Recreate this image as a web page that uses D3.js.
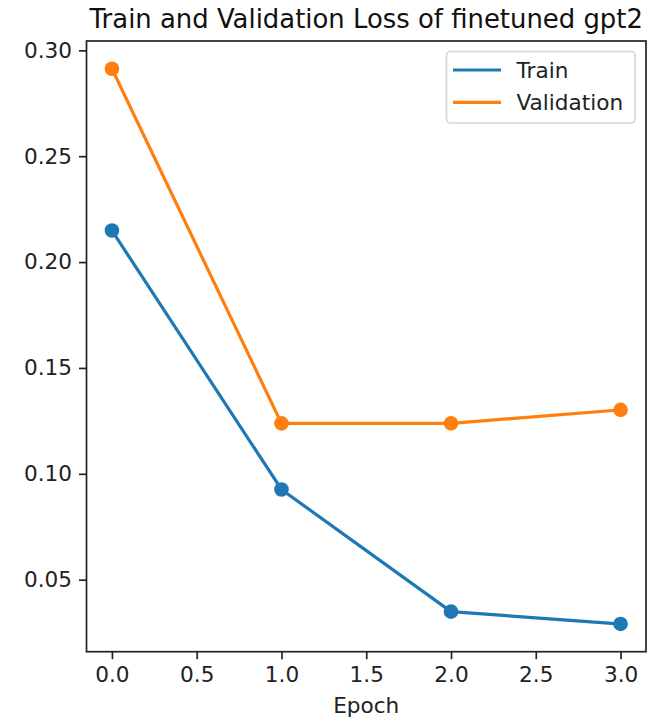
<!DOCTYPE html>
<html>
<head>
<meta charset="utf-8">
<script src="https://cdn.jsdelivr.net/npm/d3@7"></script>
<style>
  html, body { margin: 0; padding: 0; background: #fff; }
  svg { display: block; font-family: "DejaVu Sans", sans-serif; }
</style>
</head>
<body>
<svg id="chart" width="651" height="719"></svg>
<script>
const epochs = [0, 1, 2, 3];
const trainLoss = [0.2149, 0.0926, 0.0349, 0.0291];
const valLoss = [0.2913, 0.1238, 0.1238, 0.1302];
const xTicks = [0, 0.5, 1, 1.5, 2, 2.5, 3];
const yTicks = [0.05, 0.10, 0.15, 0.20, 0.25, 0.30];
const seriesNames = ["Train", "Validation"];
const seriesColors = ["#1f77b4", "#ff7f0e"];
const titleText = "Train and Validation Loss of finetuned gpt2";
const xLabel = "Epoch";

const svg = d3.select("#chart");
const plot = { left: 86.5, right: 646, top: 41, bottom: 651.7 };

const xMin = d3.min(epochs), xMax = d3.max(epochs);
const xPad = (xMax - xMin) * 0.05;
const allY = trainLoss.concat(valLoss);
const yMin = d3.min(allY), yMax = d3.max(allY);
const yPad = (yMax - yMin) * 0.05;

const x = d3.scaleLinear().domain([xMin - xPad, xMax + xPad]).range([plot.left, plot.right]);
const y = d3.scaleLinear().domain([yMin - yPad, yMax + yPad]).range([plot.bottom, plot.top]);

const fontTick = 21.6;

// X axis
const xAxis = d3.axisBottom(x).tickValues(xTicks).tickFormat(d3.format(".1f")).tickSizeOuter(0).tickSize(7.5).tickPadding(7);
const gx = svg.append("g").attr("transform", `translate(0,${plot.bottom})`).call(xAxis);
gx.select(".domain").remove();
gx.selectAll(".tick line").attr("stroke", "#222").attr("stroke-width", 1.7);
gx.selectAll(".tick text").attr("fill", "#222").style("font-size", fontTick + "px").style("font-family", "DejaVu Sans");

// Y axis
const yAxis = d3.axisLeft(y).tickValues(yTicks).tickFormat(d3.format(".2f")).tickSizeOuter(0).tickSize(7.5).tickPadding(7);
const gy = svg.append("g").attr("transform", `translate(${plot.left},0)`).call(yAxis);
gy.select(".domain").remove();
gy.selectAll(".tick line").attr("stroke", "#222").attr("stroke-width", 1.7);
gy.selectAll(".tick text").attr("fill", "#222").style("font-size", fontTick + "px").style("font-family", "DejaVu Sans");

// Lines and markers
const series = [trainLoss, valLoss];
const line = d3.line().x((d, i) => x(epochs[i])).y(d => y(d));
series.forEach((vals, si) => {
  svg.append("path").datum(vals)
    .attr("d", line)
    .attr("fill", "none")
    .attr("stroke", seriesColors[si])
    .attr("stroke-width", 3.2)
    .attr("stroke-linejoin", "round")
    .attr("stroke-linecap", "square");
  svg.append("g").selectAll("circle").data(vals).join("circle")
    .attr("cx", (d, i) => x(epochs[i]))
    .attr("cy", d => y(d))
    .attr("r", 7.3)
    .attr("fill", seriesColors[si]);
});

// Spines
svg.append("rect")
  .attr("x", plot.left).attr("y", plot.top)
  .attr("width", plot.right - plot.left).attr("height", plot.bottom - plot.top)
  .attr("fill", "none").attr("stroke", "#222").attr("stroke-width", 1.7);

// Title
svg.append("text")
  .attr("x", (plot.left + plot.right) / 2).attr("y", 28)
  .attr("text-anchor", "middle")
  .attr("fill", "#111")
  .style("font-size", "25.9px")
  .text(titleText);

// X label
svg.append("text")
  .attr("x", (plot.left + plot.right) / 2).attr("y", 713)
  .attr("text-anchor", "middle")
  .attr("fill", "#222")
  .style("font-size", fontTick + "px")
  .text(xLabel);

// Legend
const lg = svg.append("g");
lg.append("rect")
  .attr("x", 446.5).attr("y", 51.5).attr("width", 188.5).attr("height", 71.5)
  .attr("rx", 4).attr("ry", 4)
  .attr("fill", "#fff").attr("fill-opacity", 0.8)
  .attr("stroke", "#d6d6d6").attr("stroke-width", 1.7);
seriesNames.forEach((name, i) => {
  const cy = 70 + i * 32.3;
  lg.append("line")
    .attr("x1", 453).attr("x2", 501).attr("y1", cy).attr("y2", cy)
    .attr("stroke", seriesColors[i]).attr("stroke-width", 3.2);
  lg.append("text")
    .attr("x", 516.5).attr("y", cy + 8)
    .attr("fill", "#222")
    .style("font-size", fontTick + "px")
    .text(name);
});
</script>
</body>
</html>
